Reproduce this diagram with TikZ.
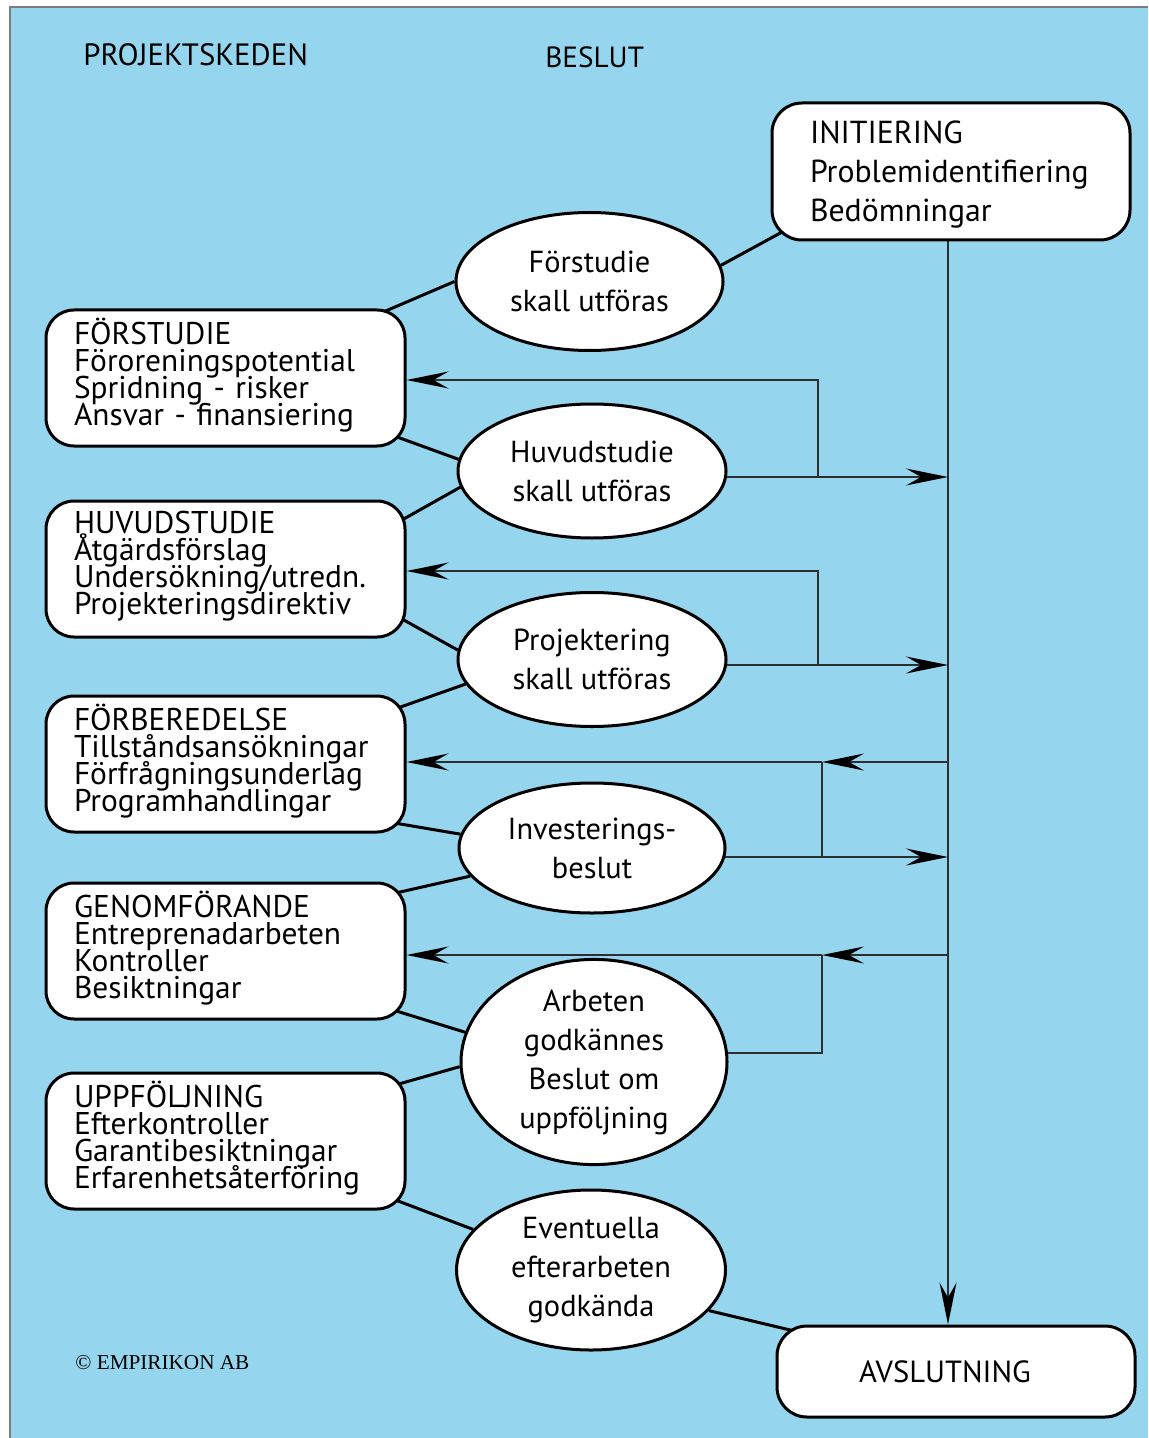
\documentclass[tikz,border=0pt]{standalone}
\usepackage{fontspec}
\setmainfont{PT Sans}
\newfontfamily\serifcr{Liberation Serif}
\usetikzlibrary{shapes.geometric,arrows.meta,calc}
\pgfdeclarelayer{back}
\pgfdeclarelayer{lines}
\pgfsetlayers{back,lines,main}
\definecolor{bgblue}{RGB}{150,213,238}
\definecolor{framec}{RGB}{125,125,125}
\definecolor{thinc}{RGB}{45,45,50}
\newcommand\tightlines{\lineskiplimit=-20pt\relax\lineskip=0pt\relax}
\tikzset{
  fbtip/.tip={Stealth[length=21pt,width=8.5pt,inset=7.5pt,color=black]},
  phasebox/.style={draw=black,line width=1.5pt,fill=white,rounded corners=14pt,
    minimum width=179.5pt,minimum height=68pt,inner xsep=14pt,inner ysep=0pt,
    text width=151.5pt,align=left,
    font={\fontsize{15.7}{13.5}\selectfont\tightlines},
    execute at end node={\par\vspace*{3pt}}},
  initbox/.style={draw=black,line width=1.5pt,fill=white,rounded corners=15pt,
    minimum width=179pt,minimum height=68.5pt,inner xsep=19pt,inner ysep=0pt,
    text width=141pt,align=left,
    font={\fontsize{15.9}{19.5}\selectfont\tightlines}},
  endbox/.style={draw=black,line width=1.5pt,fill=white,rounded corners=15pt,
    minimum width=179pt,minimum height=45.5pt,inner sep=0pt,
    font={\fontsize{15.3}{19.5}\selectfont}},
  decision/.style={ellipse,draw=black,line width=1.5pt,fill=white,inner sep=0pt,
    align=center,font={\fontsize{15.2}{19.5}\selectfont\tightlines}},
  header/.style={anchor=west,inner sep=0pt},
  conn/.style={draw=black,line width=1.5pt},
  thinline/.style={draw=thinc,line width=0.75pt},
}
\begin{document}
\begin{tikzpicture}[x=0.5pt,y=-0.5pt]
\useasboundingbox (0,0) rectangle (1148,1438);
\begin{pgfonlayer}{back}
  \fill[white] (0,0) rectangle (1148,1438);
  \fill[bgblue] (10,7) rectangle (1148,1438);
  \draw[framec,line width=0.75pt] (10,1438) -- (10,7) -- (1148,7);
\end{pgfonlayer}

% headers
\node[header,font={\fontsize{15.4}{17}\selectfont}] (hproj) at (83,55) {PROJEKTSKEDEN};
\node[header,font={\fontsize{14.6}{17}\selectfont}] (hbes) at (545,57) {BESLUT};
\node[anchor=west,inner sep=0pt,font={\serifcr\fontsize{10.6}{12}\selectfont}] (copy) at (75,1363) {© EMPIRIKON AB};

% right column boxes
\node[initbox] (init) at (951,171.5) {\rule{0pt}{14pt}INITIERING\\Problemidentifiering\\Bedömningar};
\node[endbox] (avsl) at (956,1371.5) {AVSLUTNING\hspace*{11pt}};

% phase boxes
\node[phasebox] (b1) at (225.5,378) {FÖRSTUDIE\\Föroreningspotential\\Spridning - risker\\Ansvar - finansiering};
\node[phasebox] (b2) at (225.5,569) {HUVUDSTUDIE\\Åtgärdsförslag\\Undersökning/utredn.\\Projekteringsdirektiv};
\node[phasebox] (b3) at (225.5,764) {FÖRBEREDELSE\\Tillståndsansökningar\\Förfrågningsunderlag\\Programhandlingar};
\node[phasebox] (b4) at (225.5,951) {GENOMFÖRANDE\\Entreprenadarbeten\\Kontroller\\Besiktningar};
\node[phasebox] (b5) at (225.5,1141) {UPPFÖLJNING\\Efterkontroller\\Garantibesiktningar\\Erfarenhetsåterföring};

% decisions
\node[decision,minimum width=133.5pt,minimum height=69pt] (e1) at (589.5,281.5) {Förstudie\\skall utföras};
\node[decision,minimum width=134pt,minimum height=67pt] (e2) at (592,471) {Huvudstudie\\skall utföras};
\node[decision,minimum width=134pt,minimum height=67pt] (e3) at (592,659.5) {Projektering\\skall utföras};
\node[decision,minimum width=133pt,minimum height=65pt] (e4) at (592,848) {Investerings-\\beslut};
\node[decision,minimum width=133pt,minimum height=88pt] (e5) at (594,1062) {Arbeten\\godkännes\\Beslut om\\uppföljning};
\node[decision,minimum width=134.5pt,minimum height=80pt] (e6) at (591,1270) {Eventuella\\efterarbeten\\godkända};

% junction coordinates
\coordinate (vx) at (948,0);
\coordinate (j1) at (818,380);
\coordinate (k1) at (818,477);
\coordinate (j2) at (818,571);
\coordinate (k2) at (818,665);
\coordinate (j3) at (822,762);
\coordinate (k3) at (822,857);
\coordinate (j4) at (822,955);
\coordinate (k4) at (822,1053);

\begin{pgfonlayer}{lines}
  % thick connectors
  \draw[conn] (e1.7) -- ($(init.south west)+(18,-13)$);
  \draw[conn] (e1.180) -- ($(b1.north east)+(-29,6)$);
  \draw[conn] ($(b1.south east)+(-19,-14)$) -- (e2.175);
  \draw[conn] (e2.187) -- ($(b2.north east)+(-9,23)$);
  \draw[conn] ($(b2.south east)+(-9,-22)$) -- (e3.176);
  \draw[conn] (e3.191) -- ($(b3.north east)+(-13,15)$);
  \draw[conn] ($(b3.south east)+(-15,-11)$) -- (e4.174.7);
  \draw[conn] (e4.193) -- ($(b4.north east)+(-13,12)$);
  \draw[conn] ($(b4.south east)+(-15,-11)$) -- (e5.167.6);
  \draw[conn] (e5.182) -- ($(b5.north east)+(-13,14)$);
  \draw[conn] ($(b5.south east)+(-15,-12)$) -- (e6.161.4);
  \draw[conn] (e6.341.4) -- ($(avsl.north west)+(21,7)$);

  % main vertical
  \draw[thinline,-{fbtip}] (init.south -| vx) -- (avsl.north -| vx);

  % loop 1
  \draw[thinline,-{fbtip}] (e2 |- k1) -- (k1 -| vx);
  \draw[thinline,-{fbtip}] (k1) -- (j1) -- (j1 -| b1.east);
  % loop 2
  \draw[thinline,-{fbtip}] (e3 |- k2) -- (k2 -| vx);
  \draw[thinline,-{fbtip}] (k2) -- (j2) -- (j2 -| b2.east);
  % loop 3
  \draw[thinline,-{fbtip}] (j3 -| vx) -- (j3);
  \draw[thinline,-{fbtip}] (j3) -- (j3 -| b3.east);
  \draw[thinline] (j3) -- (k3);
  \draw[thinline,-{fbtip}] (e4 |- k3) -- (k3 -| vx);
  % loop 4
  \draw[thinline,-{fbtip}] (j4 -| vx) -- (j4);
  \draw[thinline,-{fbtip}] (j4) -- (j4 -| b4.east);
  \draw[thinline] (j4) -- (k4) -- (e5 |- k4);
\end{pgfonlayer}
\end{tikzpicture}
\end{document}
